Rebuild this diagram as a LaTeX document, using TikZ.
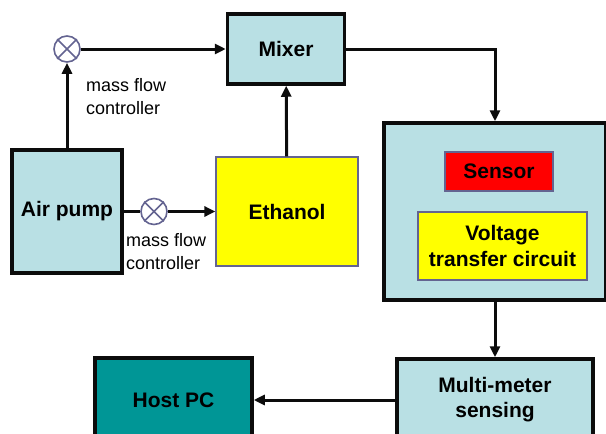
\documentclass[tikz,border=0pt]{standalone}
\usepackage{fontspec}
\setmainfont{Liberation Sans}
\usetikzlibrary{arrows.meta, positioning}
\definecolor{mylight}{RGB}{185,224,228}
\definecolor{myteal}{RGB}{0,150,150}
\definecolor{myyellow}{RGB}{255,255,0}
\definecolor{myred}{RGB}{255,0,0}
\definecolor{myslate}{RGB}{100,100,145}
\definecolor{mydark}{RGB}{12,12,12}
\tikzset{
  block/.style={rectangle, draw=mydark, fill=mylight, line width=3.5pt,
    inner sep=0pt, align=center, font=\bfseries\fontsize{21}{25}\selectfont},
  tealblock/.style={block, fill=myteal},
  yellowblock/.style={rectangle, draw=myslate, fill=myyellow, line width=1.2pt,
    inner sep=0pt, align=center, font=\bfseries\fontsize{21}{26}\selectfont},
  redblock/.style={yellowblock, fill=myred},
  valve/.style={circle, draw=myslate, fill=white, line width=1.6pt,
    minimum size=26pt, inner sep=0pt},
  note/.style={align=left, inner sep=0pt, font=\fontsize{18}{23}\selectfont},
  arrow/.style={-{Triangle[length=11pt, width=10pt]}, line width=3pt, color=mydark},
  line/.style={line width=3pt, color=mydark}
}

\begin{document}
\begin{tikzpicture}[x=1pt, y=-1pt]
  \useasboundingbox (0,0) rectangle (606,434);
  \clip (0,0) rectangle (606,434);

  % blocks
  \node[block, minimum width=117pt, minimum height=70pt] (mixer) at (286,49) {Mixer};
  \node[block, minimum width=110pt, minimum height=123pt] (pump) at (67,211.5) {Air pump};
  \node[yellowblock, minimum width=142pt, minimum height=109pt] (ethanol) at (287,211.5) {Ethanol};
  \node[block, minimum width=222pt, minimum height=177pt] (chamber) at (495,211.5) {};
  \node[redblock, minimum width=108pt, minimum height=39pt] (sensor) at (499,171.5) {Sensor};
  \node[yellowblock, minimum width=169pt, minimum height=68pt] (circuit) at (502.5,246) {Voltage\\transfer circuit};
  \node[block, minimum width=196pt, minimum height=82pt] (meter) at (495,400) {Multi-meter\\sensing};
  \node[tealblock, minimum width=157pt, minimum height=84pt] (host) at (173.5,400) {Host PC};

  % valves
  \node[valve] (valvea) at (67,49) {};
  \node[valve] (valveb) at (154,211.5) {};
  \foreach \v in {valvea, valveb} {
    \draw[myslate, line width=1.6pt] (\v.45) -- (\v.225) (\v.135) -- (\v.315);
  }
  \node[note, anchor=west] (notea) at (86,96.5) {mass flow\\controller};
  \node[note, anchor=west] (noteb) at (126,251.5) {mass flow\\controller};

  % paths
  \draw[arrow] (pump.north) -- (valvea.south);
  \draw[arrow] (valvea) -- (mixer);
  \draw[line] (pump.east) -- (valveb.west);
  \draw[arrow] (valveb) -- (ethanol);
  \draw[arrow] (ethanol) -- (mixer);
  \draw[arrow] (mixer.east) -| (chamber.north);
  \draw[arrow] (chamber) -- (meter);
  \draw[arrow] (meter) -- (host);
\end{tikzpicture}
\end{document}
